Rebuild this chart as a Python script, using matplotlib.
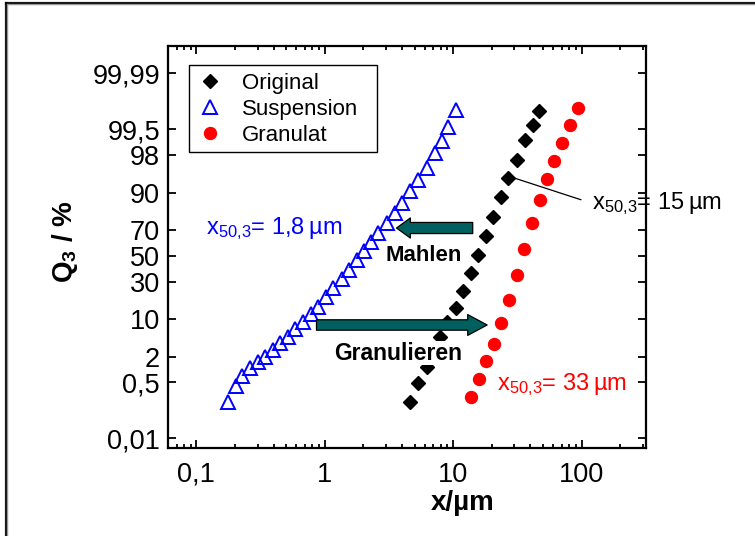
import numpy as np
import matplotlib
matplotlib.use("Agg")
import matplotlib.pyplot as plt
from matplotlib.ticker import FixedLocator, NullLocator, LogLocator, FixedFormatter
from matplotlib.lines import Line2D
from matplotlib.patches import Rectangle
from statistics import NormalDist

plt.rcParams['font.family'] = ['Liberation Sans', 'DejaVu Sans']
plt.rcParams['mathtext.fontset'] = 'custom'
plt.rcParams['mathtext.rm'] = 'Liberation Sans'
plt.rcParams['mathtext.it'] = 'Liberation Sans:italic'
plt.rcParams['mathtext.bf'] = 'Liberation Sans:bold'

# ---------------- data ----------------
susp_x = [0.176, 0.205, 0.228, 0.260, 0.302, 0.340, 0.395, 0.446, 0.518, 0.583,
          0.678, 0.787, 0.887, 1.02, 1.16, 1.35, 1.55, 1.77, 2.01, 2.31,
          2.60, 3.03, 3.51, 4.00, 4.60, 5.34, 6.21, 7.20, 8.12, 9.14, 10.6]
susp_q = [0.147, 0.40, 0.716, 1.09, 1.55, 1.99, 2.74, 3.73, 4.96, 6.71,
          8.96, 11.8, 14.7, 19.9, 25.4, 31.6, 38.6, 46.6, 53.9, 61.3,
          68.1, 75.0, 81.0, 86.0, 90.7, 93.9, 96.4, 98.2, 99.05, 99.56, 99.85]

orig_x = [4.60, 5.34, 6.21, 6.95, 7.88, 9.01, 10.5, 11.97, 13.67, 15.66,
          17.98, 20.5, 23.4, 26.8, 31.5, 36.2, 41.6, 46.8]
orig_q = [0.147, 0.469, 1.19, 2.50, 4.96, 8.87, 14.2, 23.7, 36.1, 50.6,
          65.7, 78.7, 88.3, 94.3, 97.5, 99.09, 99.62, 99.84]

gran_x = [13.67, 15.8, 18.08, 20.65, 23.8, 27.3, 31.2, 35.9, 40.8, 47.1,
          53.7, 61.5, 69.9, 81.2, 94.2]
gran_q = [0.204, 0.60, 1.60, 3.66, 8.45, 18.4, 34.8, 55.5, 74.6, 87.1,
          94.2, 97.33, 98.91, 99.62, 99.87]

labels = ["Original", "Suspension", "Granulat"]
x_ticks = [0.1, 1, 10, 100]
x_ticklabels = ["0,1", "1", "10", "100"]
y_ticks = [0.01, 0.5, 2, 10, 30, 50, 70, 90, 98, 99.5, 99.99]
y_ticklabels = ["0,01", "0,5", "2", "10", "30", "50", "70", "90", "98", "99,5", "99,99"]

# ---------------- probability scale ----------------
_nd = NormalDist()
_ppf = np.vectorize(lambda p: _nd.inv_cdf(min(max(p / 100.0, 1e-12), 1 - 1e-12)), otypes=[float])
_cdf = np.vectorize(lambda z: _nd.cdf(z) * 100.0, otypes=[float])

def fwd(p):
    p = np.asarray(p, dtype=float)
    if p.size == 0:
        return p
    return _ppf(p)

def inv(z):
    z = np.asarray(z, dtype=float)
    if z.size == 0:
        return z
    return _cdf(z)

fig = plt.figure(figsize=(7.55, 5.36), dpi=100)
ax = fig.add_axes([0.2229, 0.1647, 0.6323, 0.7495])
ax.set_xscale('log')
ax.set_yscale('function', functions=(fwd, inv))
ax.set_xlim(0.0604, 316)
ax.set_ylim(inv(-3.911), inv(4.276))

ax.plot(orig_x, orig_q, linestyle='none', marker='D', ms=7.4, color='black',
        label=labels[0], zorder=3)
ax.plot(susp_x, susp_q, linestyle='none', marker='^', ms=9.5, mfc='none',
        mec='#0000FF', mew=1.4, label=labels[1], zorder=3)
ax.plot(gran_x, gran_q, linestyle='none', marker='o', ms=8.6, color='#FF0000',
        label=labels[2], zorder=3)

# ticks
ax.xaxis.set_major_locator(FixedLocator(x_ticks))
ax.xaxis.set_major_formatter(FixedFormatter(x_ticklabels))
ax.xaxis.set_minor_locator(LogLocator(base=10, subs=np.arange(2, 10)))
ax.yaxis.set_major_locator(FixedLocator(y_ticks))
ax.yaxis.set_major_formatter(FixedFormatter(y_ticklabels))
ax.yaxis.set_minor_locator(NullLocator())
ax.tick_params(which='both', direction='in', top=True, right=True, width=1.3,
               labelsize=19.5)
ax.tick_params(which='major', length=6)
ax.tick_params(which='minor', length=3)
ax.tick_params(axis='x', pad=10)
ax.tick_params(axis='y', pad=6)
ax.xaxis.set_minor_formatter(plt.NullFormatter())
for s in ax.spines.values():
    s.set_linewidth(1.6)

# labels
ax.set_xlabel("x/\u00b5m", fontsize=20, fontweight='bold')
ax.xaxis.set_label_coords(0.617, -0.1377)
ax.xaxis.label.set_va('center')
ax.set_ylabel("Q$_\\mathbf{3}$ / %", fontsize=20, fontweight='bold')
ax.yaxis.set_label_coords(-0.2164, 0.513)
ax.yaxis.label.set_va('center')

# legend (frame drawn separately to match the reference box)
leg = ax.legend(loc='upper left', bbox_to_anchor=(0.044, 0.9527), borderaxespad=0,
                fontsize=16, frameon=False,
                numpoints=1, handlelength=1.2, handletextpad=0.8,
                labelspacing=0.22, borderpad=0.35)
ax.add_patch(Rectangle((0.044, 0.7369), 0.4378 - 0.044, 0.9527 - 0.7369,
                       transform=ax.transAxes, fill=False, edgecolor='black',
                       lw=1.0, zorder=6))

# arrows
arrow_fc = '#00605F'
ax.annotate('', xy=(3.62, 71.45), xytext=(14.2, 71.45),
            arrowprops=dict(arrowstyle='simple,head_length=1.0,head_width=1.45,tail_width=0.8',
                            fc=arrow_fc, ec='black', lw=0.9, shrinkA=0, shrinkB=0,
                            mutation_scale=10), zorder=4)
ax.annotate('', xy=(18.4, 7.93), xytext=(0.862, 7.93),
            arrowprops=dict(arrowstyle='simple,head_length=1.4,head_width=1.5,tail_width=0.75',
                            fc=arrow_fc, ec='black', lw=0.9, shrinkA=0, shrinkB=0,
                            mutation_scale=10), zorder=4)

ax.text(5.93, 50.65, "Mahlen", fontsize=16, fontweight='bold', ha='center',
        va='center', zorder=5)
ax.text(3.73, 2.35, "Granulieren", fontsize=16.5, fontweight='bold', ha='center',
        va='center', zorder=5,
        bbox=dict(facecolor='white', edgecolor='none', pad=0.5))

# x50 annotations
ax.text(0.118, 70.75, "x$_\\mathrm{50{,}3}$= 1,8\u2009\u00b5m", fontsize=17,
        color='#0000FF', ha='left', va='center')
ax.text(22.0, 0.423, "x$_\\mathrm{50{,}3}$= 33\u2009\u00b5m", fontsize=17,
        color='#FF0000', ha='left', va='center')
ax.annotate("x$_\\mathrm{50{,}3}$= 15\u2009\u00b5m", xy=(30.3, 94.3),
            xytext=(120, 85.8), fontsize=17, color='black', ha='left',
            va='center', annotation_clip=False,
            arrowprops=dict(arrowstyle='-', color='black', lw=0.9,
                            shrinkA=6, shrinkB=0, relpos=(0, 0.5)))

# figure frame (top and left edges)
fig.add_artist(Line2D([6 / 755, 1.0], [1 - 3 / 536, 1 - 3 / 536],
                      transform=fig.transFigure, color='#999999', lw=2.5))
fig.add_artist(Line2D([6 / 755, 6 / 755], [0.0, 1 - 3 / 536],
                      transform=fig.transFigure, color='#999999', lw=2.5))
fig.add_artist(Line2D([6 / 755, 1.0], [1 - 3 / 536, 1 - 3 / 536],
                      transform=fig.transFigure, color='black', lw=1.2))
fig.add_artist(Line2D([6 / 755, 6 / 755], [0.0, 1 - 3 / 536],
                      transform=fig.transFigure, color='black', lw=1.2))

fig.savefig("out.png", dpi=100)
